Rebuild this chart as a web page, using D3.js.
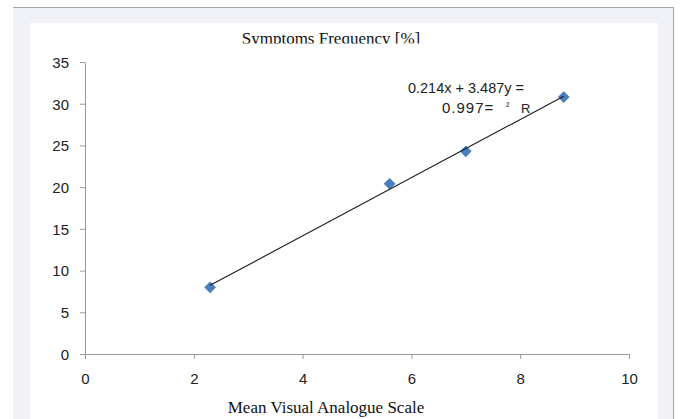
<!DOCTYPE html>
<html>
<head>
<meta charset="utf-8">
<script src="https://cdn.jsdelivr.net/npm/d3@7"></script>
<style>
  html, body { margin: 0; padding: 0; background: #ffffff; }
  svg { display: block; }
</style>
</head>
<body>
<svg id="chart" width="682" height="419"></svg>
<script>
// Mean VAS score vs. symptoms frequency
const vasMeans = [2.3, 5.6, 7.0, 8.8];
const frequencies = [8.0, 20.4, 24.3, 30.8];
const xTicks = [0, 2, 4, 6, 8, 10];
const yTicks = [0, 5, 10, 15, 20, 25, 30, 35];
// Linear trend: y = slope * x + intercept
const slope = 3.487;
const intercept = 0.214;
const equationLine1 = "0.214x + 3.487y =";
const equationLine2 = ["0.997=", "\u00B2", "R"];
const titleText = "Symptoms Frequency [%]";
const xLabelText = "Mean Visual Analogue Scale";

const svg = d3.select("#chart");

// Frame: grey backdrop with a darker top/right edge, white plot card on top
svg.append("rect").attr("x", 13).attr("y", 7).attr("width", 661).attr("height", 420)
  .attr("fill", "#f1f2f7");
svg.append("line").attr("x1", 13).attr("x2", 674).attr("y1", 7.5).attr("y2", 7.5)
  .attr("stroke", "#a3a3a8").attr("stroke-width", 1);
svg.append("line").attr("x1", 673.5).attr("x2", 673.5).attr("y1", 7).attr("y2", 419)
  .attr("stroke", "#a3a3a8").attr("stroke-width", 1);
svg.append("rect").attr("x", 30).attr("y", 23).attr("width", 628).attr("height", 400)
  .attr("fill", "#ffffff");

const x = d3.scaleLinear().domain([0, 10]).range([85, 629]);
const y = d3.scaleLinear().domain([0, 35]).range([354, 62]);

const axisColor = "#9a9a9a";
const tickFont = "'Liberation Sans', Arial, sans-serif";
const serif = "'Liberation Serif', 'Times New Roman', serif";

const gx = svg.append("g").attr("transform", `translate(0,${y(0)})`)
  .call(d3.axisBottom(x).tickValues(xTicks).tickSize(5).tickSizeOuter(0).tickPadding(14));
const gy = svg.append("g").attr("transform", `translate(${x(0)},0)`)
  .call(d3.axisLeft(y).tickValues(yTicks).tickSize(5).tickSizeOuter(0).tickPadding(11));

[gx, gy].forEach(g => {
  g.select(".domain").attr("stroke", axisColor);
  g.selectAll(".tick line").attr("stroke", axisColor);
  g.selectAll(".tick text").attr("fill", "#222").style("font-family", tickFont).style("font-size", "15px");
});
gy.selectAll(".tick text").attr("dy", "0.36em");

// Title, clipped along its lower edge
const clip = svg.append("defs").append("clipPath").attr("id", "titleClip");
clip.append("rect").attr("x", 30).attr("y", 23).attr("width", 628).attr("height", 20.5);
svg.append("text").attr("x", 331).attr("y", 44).attr("text-anchor", "middle")
  .attr("clip-path", "url(#titleClip)")
  .style("font-family", serif).style("font-size", "17px")
  .attr("fill", "#111").text(titleText);

svg.append("text").attr("x", 326).attr("y", 413).attr("text-anchor", "middle")
  .style("font-family", serif).style("font-size", "17px")
  .attr("fill", "#111").text(xLabelText);

// Data points as diamonds
const pts = vasMeans.map((v, i) => ({ x: v, y: frequencies[i] }));
svg.append("g").selectAll("path").data(pts).join("path")
  .attr("transform", d => `translate(${x(d.x)},${y(d.y)})`)
  .attr("d", d3.symbol().type(d3.symbolDiamond2).size(88))
  .attr("fill", "#4a7ebb");

// Trend line across the data range
const xMin = d3.min(vasMeans), xMax = d3.max(vasMeans);
svg.append("line")
  .attr("x1", x(xMin)).attr("y1", y(slope * xMin + intercept))
  .attr("x2", x(xMax)).attr("y2", y(slope * xMax + intercept))
  .attr("stroke", "#1a1a1a").attr("stroke-width", 1.1);

// Equation label
const eq = svg.append("g").style("font-family", tickFont).attr("fill", "#222");
eq.append("text").attr("x", 466).attr("y", 93).attr("text-anchor", "middle")
  .style("font-size", "14.5px").text(equationLine1);
eq.append("text").attr("x", 442).attr("y", 113).style("font-size", "15px")
  .attr("letter-spacing", "1px").text(equationLine2[0]);
eq.append("text").attr("x", 506).attr("y", 109).style("font-size", "10px").text(equationLine2[1]);
eq.append("text").attr("x", 521).attr("y", 113).style("font-size", "13px").text(equationLine2[2]);
</script>
</body>
</html>
